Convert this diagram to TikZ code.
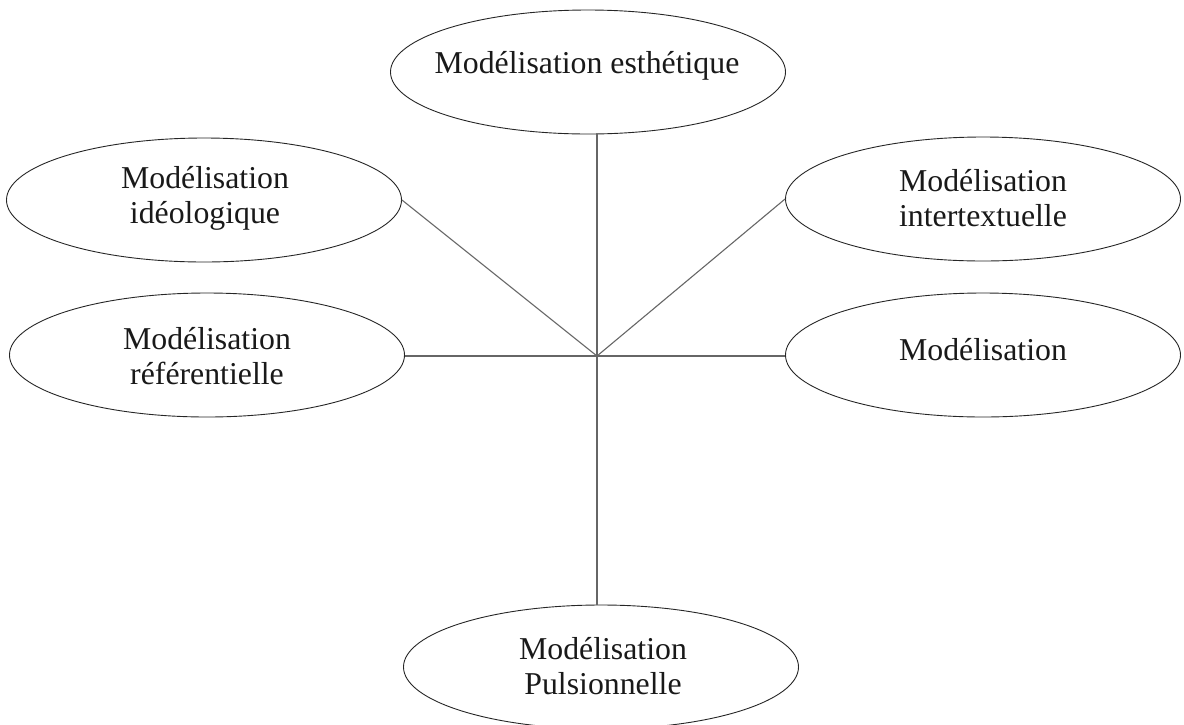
\documentclass[tikz,border=0pt]{standalone}
\usepackage{fontspec}
\setmainfont{Liberation Serif}
\usetikzlibrary{shapes.geometric}
\begin{document}
\begin{tikzpicture}[x=1pt,y=-1pt,
  ell/.style={ellipse,draw=black!85,line width=0.9pt,minimum width=395pt,minimum height=124pt,inner sep=0pt},
  lbl/.style={align=center,font=\fontsize{31.8}{35}\selectfont,text=black!90,inner sep=0pt},
  conn/.style={draw=black!60,line width=1.1pt}]
\useasboundingbox (0,0) rectangle (1184,724);
\clip (0,0) rectangle (1184,724);
\node[ell] (top) at (588,72) {};
\node[lbl,anchor=base] (toptxt) at (587,73) {Modélisation esthétique};
\node[ell] (lt) at (204,200) {};
\node[lbl] (lttxt) at (205,198) {Modélisation\\idéologique};
\node[ell] (rt) at (983,199) {};
\node[lbl] (rttxt) at (983,198) {Modélisation\\intertextuelle};
\node[ell] (lm) at (207,355) {};
\node[lbl] (lmtxt) at (207,356) {Modélisation\\référentielle};
\node[ell] (rm) at (983,355) {};
\node[lbl,anchor=base] (rmtxt) at (983,360) {Modélisation};
\node[ell] (bot) at (601,667) {};
\node[lbl] (bottxt) at (603,666) {Modélisation\\Pulsionnelle};
\coordinate (hub) at (597,356);
\draw[conn] (hub) -- (hub |- top.south);
\draw[conn] (hub) -- (lt.east);
\draw[conn] (hub) -- (rt.west);
\draw[conn] (hub) -- (lm.east |- hub);
\draw[conn] (hub) -- (rm.west |- hub);
\draw[conn] (hub) -- (hub |- bot.north);
\end{tikzpicture}
\end{document}
